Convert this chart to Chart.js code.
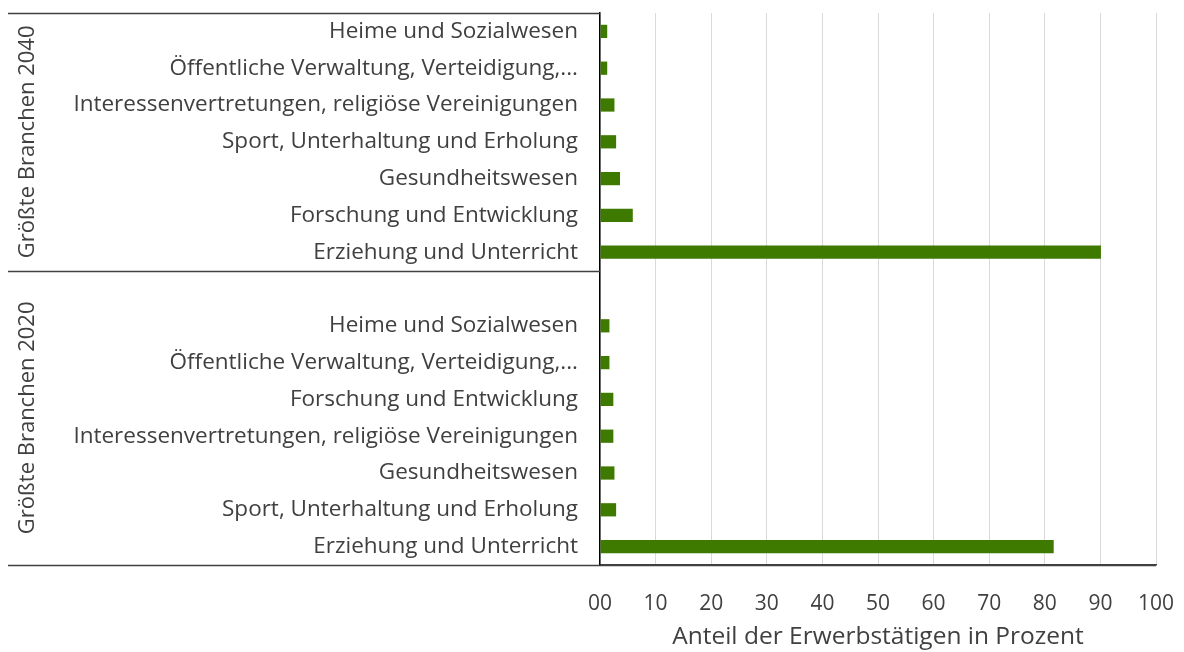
<!DOCTYPE html>
<html>
<head>
<meta charset="utf-8">
<script src="https://cdn.jsdelivr.net/npm/chart.js@4/dist/chart.umd.min.js"></script>
<style>
  html, body { margin: 0; padding: 0; background: #fff; }
  #wrap { width: 1184px; height: 652px; position: relative; }
</style>
</head>
<body>
<div id="wrap"><canvas id="c"></canvas></div>
<script>
// ---- data ----
const groupNames = ['Größte Branchen 2040', 'Größte Branchen 2020'];
const cats2040 = [
  'Heime und Sozialwesen',
  'Öffentliche Verwaltung, Verteidigung,...',
  'Interessenvertretungen, religiöse Vereinigungen',
  'Sport, Unterhaltung und Erholung',
  'Gesundheitswesen',
  'Forschung und Entwicklung',
  'Erziehung und Unterricht'
];
const vals2040 = [1.3, 1.3, 2.6, 2.9, 3.6, 5.9, 90.1];
const cats2020 = [
  '',
  'Heime und Sozialwesen',
  'Öffentliche Verwaltung, Verteidigung,...',
  'Forschung und Entwicklung',
  'Interessenvertretungen, religiöse Vereinigungen',
  'Gesundheitswesen',
  'Sport, Unterhaltung und Erholung',
  'Erziehung und Unterricht'
];
const vals2020 = [null, 1.7, 1.7, 2.4, 2.4, 2.6, 2.9, 81.6];
const xTickLabels = ['00', '10', '20', '30', '40', '50', '60', '70', '80', '90', '100'];
const xTitle = 'Anteil der Erwerbstätigen in Prozent';

const labels = [...cats2040, ...cats2020];
const values = [...vals2040, ...vals2020];
const groupSizes = [cats2040.length, cats2020.length];

const FONT = '"Open Sans", "DejaVu Sans", sans-serif';
const TEXT = '#404040';

const groupPlugin = {
  id: 'groupPlugin',
  afterDraw(chart) {
    const ctx = chart.ctx;
    const ca = chart.chartArea;
    const y = chart.scales.y;
    const leftX = 8;
    ctx.save();
    ctx.strokeStyle = '#404040';
    ctx.lineWidth = 1.5;
    const bounds = [ca.top];
    let idx = 0;
    for (let g = 0; g < groupSizes.length; g++) {
      idx += groupSizes[g];
      if (idx < labels.length) {
        bounds.push((y.getPixelForValue(idx - 1) + y.getPixelForValue(idx)) / 2);
      } else {
        bounds.push(ca.bottom);
      }
    }
    ctx.beginPath();
    for (let i = 0; i < bounds.length; i++) {
      const by = Math.round(bounds[i]) + 0.5;
      ctx.moveTo(leftX, by);
      ctx.lineTo(i === bounds.length - 1 ? ca.right : ca.left, by);
    }
    ctx.stroke();
    ctx.fillStyle = TEXT;
    ctx.font = '22px ' + FONT;
    ctx.textAlign = 'center';
    ctx.textBaseline = 'middle';
    for (let g = 0; g < groupNames.length; g++) {
      const cy = (bounds[g] + bounds[g + 1]) / 2;
      ctx.save();
      ctx.translate(28, cy);
      ctx.rotate(-Math.PI / 2);
      ctx.fillText(groupNames[g], 0, 0);
      ctx.restore();
    }
    ctx.restore();
  }
};

new Chart(document.getElementById('c'), {
  type: 'bar',
  data: {
    labels: labels,
    datasets: [{
      data: values,
      backgroundColor: '#3f7a00',
      borderWidth: 0,
      barPercentage: 0.36,
      categoryPercentage: 1.0
    }]
  },
  options: {
    indexAxis: 'y',
    responsive: true,
    maintainAspectRatio: false,
    animation: false,
    layout: { padding: { top: 13, right: 28, left: 0, bottom: 0 } },
    plugins: { legend: { display: false }, tooltip: { enabled: false } },
    scales: {
      x: {
        min: 0, max: 100,
        ticks: {
          stepSize: 10,
          padding: 26,
          color: TEXT,
          font: { family: FONT, size: 21 },
          maxRotation: 0,
          callback: (v, i) => xTickLabels[i]
        },
        grid: { color: '#d9d9d9', lineWidth: 1, drawTicks: false },
        border: { display: true, color: '#404040', width: 1.5 },
        title: {
          display: true,
          text: xTitle,
          color: TEXT,
          font: { family: FONT, size: 24.5 },
          padding: { top: 0, bottom: 0 }
        },
        afterFit(scale) {
          scale.height = 652 - 565;
          scale.paddingLeft = 0;
          scale.paddingRight = 0;
        }
      },
      y: {
        ticks: {
          padding: 22,
          color: TEXT,
          font: { family: FONT, size: 22.5 },
          autoSkip: false
        },
        grid: { display: false, drawTicks: false },
        border: { display: true, color: '#000', width: 1.5 },
        afterFit(scale) {
          scale.width = 600;
          scale.paddingTop = 0;
          scale.paddingBottom = 0;
        }
      }
    }
  },
  plugins: [groupPlugin]
});
</script>
</body>
</html>
